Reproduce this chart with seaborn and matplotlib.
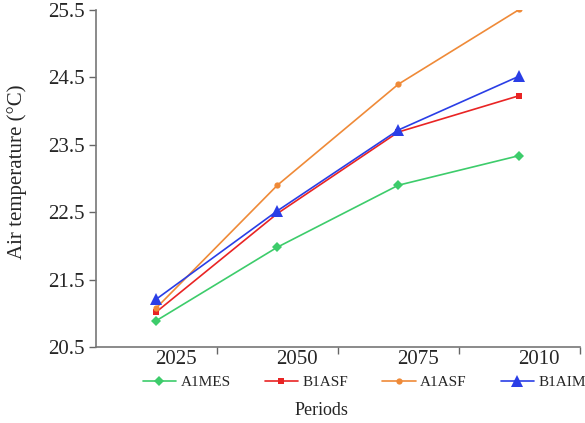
import pandas as pd
import seaborn as sns
import matplotlib.pyplot as plt
from matplotlib.ticker import FixedLocator

periods = ["2025", "2050", "2075", "2010"]
a1mes = [20.89, 21.98, 22.90, 23.34]
b1asf = [21.02, 22.48, 23.69, 24.23]
a1asf = [21.08, 22.90, 24.40, 25.51]
b1aim = [21.21, 22.52, 23.72, 24.52]

names = ["A1MES", "B1ASF", "A1ASF", "B1AIM"]
colors = ["#3dcc6b", "#e92424", "#ef8a38", "#2a3ee6"]
markers = ["D", "s", "o", "^"]
msizes = [5, 4.5, 4.5, 8]

rows = []
for name, vals in zip(names, [a1mes, b1asf, a1asf, b1aim]):
    for i, v in enumerate(vals):
        rows.append({"pos": i, "period": periods[i], "temp": v, "scenario": name})
df = pd.DataFrame(rows)

sns.set_style("ticks")
plt.rcParams['font.family'] = ['Liberation Serif', 'DejaVu Serif']

fig = plt.figure(figsize=(5.85, 4.23), dpi=100)
ax = fig.add_axes([0.164, 0.180, 0.827, 0.796])

for name, c, m, ms in zip(names, colors, markers, msizes):
    sns.lineplot(data=df[df["scenario"] == name], x="pos", y="temp", color=c,
                 marker=m, markersize=ms, markeredgewidth=0, linewidth=1.2,
                 label=name, ax=ax)

ax.set_xlim(-0.5, 3.5)
ax.set_ylim(20.5, 25.5)
ax.set_yticks([20.5, 21.5, 22.5, 23.5, 24.5, 25.5])
ax.set_yticklabels(["20.5", "21.5", "22.5", "23.5", "24.5", "25.5"], fontsize=15)

# tick marks between the periods, labels sit a bit right of the points
ax.xaxis.set_major_locator(FixedLocator([0.5, 1.5, 2.5, 3.5]))
ax.set_xticklabels([])
ax.xaxis.set_minor_locator(FixedLocator([i + 0.16 for i in range(4)]))
ax.set_xticklabels(periods, minor=True, fontsize=15)
ax.tick_params(axis="x", which="minor", length=0, pad=2)
ax.tick_params(axis="both", which="major", length=5, width=1, color="#666666", direction="out")
ax.tick_params(axis="y", which="major", pad=3)

for s in ["top", "right"]:
    ax.spines[s].set_visible(False)
for s in ["left", "bottom"]:
    ax.spines[s].set_color("#777777")
    ax.spines[s].set_linewidth(1.2)

ax.set_xlabel("Periods", fontsize=13)
ax.xaxis.set_label_coords(0.467, -0.163)
ax.set_ylabel("Air temperature (\u00b0C)", fontsize=15)
ax.yaxis.set_label_coords(-0.143, 0.52)

ax.legend(loc="upper center", bbox_to_anchor=(0.555, -0.066), ncol=4, frameon=False,
          fontsize=11, handlelength=2.2, handletextpad=0.3, columnspacing=2.2,
          borderaxespad=0)

fig.savefig("out.png", dpi=100)
